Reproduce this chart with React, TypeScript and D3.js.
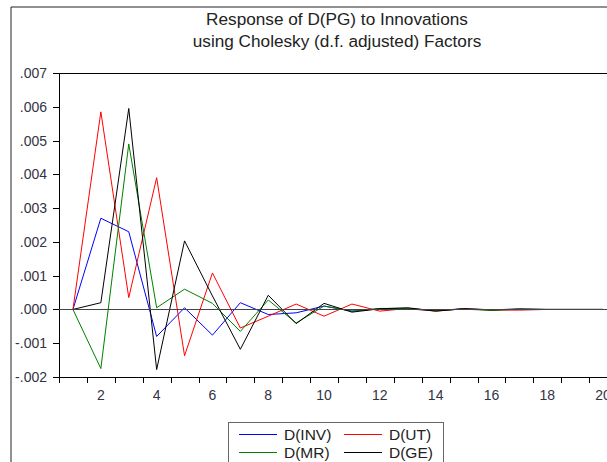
import React from 'react';
import * as d3 from 'd3';

// periods 1..20
const periods = d3.range(1, 21);
const yTicks = [-0.002, -0.001, 0, 0.001, 0.002, 0.003, 0.004, 0.005, 0.006, 0.007];
const xLabels = [2, 4, 6, 8, 10, 12, 14, 16, 18, 20];

const inv = [0, 0.0027, 0.0023, -0.0008, 0.00005, -0.00076, 0.0002, -0.00015, -0.0001, 0.0001, -0.00005, 0.00002, 0.00001, -0.00003, 0.00002, -0.00001, 0.00001, 0, 0, 0];
const ut = [0, 0.00585, 0.00035, 0.0039, -0.00137, 0.00108, -0.00055, -0.0002, 0.00016, -0.0002, 0.00016, -0.00005, 0.00003, -0.00005, 0.00002, -0.00002, -0.00002, 0, 0, 0];
const mr = [0, -0.00175, 0.0049, 0.00005, 0.0006, 0.00018, -0.00065, 0.00028, -0.0004, 0.0001, -0.00005, 0.00003, 0.00003, -0.00003, 0.00001, -0.00003, 0.00001, 0, 0, 0];
const ge = [0, 0.0002, 0.00595, -0.00178, 0.00203, 0.0004, -0.00118, 0.00042, -0.00042, 0.00018, -0.00008, 0.00002, 0.00005, -0.00005, 0.00002, -0.00001, 0.00001, 0, 0, 0];

const series = [
  { name: 'D(INV)', values: inv, color: '#0000ff' },
  { name: 'D(UT)', values: ut, color: '#ff0000' },
  { name: 'D(MR)', values: mr, color: '#008000' },
  { name: 'D(GE)', values: ge, color: '#000000' },
];

const W = 607;
const H = 462;
const left = 59, top = 73, bottom = 377, right = 617;
const font = 'Arial, "Liberation Sans", sans-serif';
const txt = '#333344';

const fmt = (v: number) => v.toFixed(3).replace(/^(-?)0\./, '$1.');

export default function App() {
  const x = d3.scaleLinear().domain([0.5, 20.5]).range([left, right]);
  const y = d3.scaleLinear().domain([-0.002, 0.007]).range([bottom, top]);
  const line = d3.line<number>().x((d, i) => x(periods[i])).y(d => y(d));
  const edges = d3.range(0.5, 21, 1);

  return (
    <svg width={W} height={H} style={{ position: 'absolute', left: 0, top: 0, background: '#fff' }}>
      {/* outer frame */}
      <line x1={11} y1={7} x2={W} y2={7} stroke="#222" />
      <line x1={11} y1={7} x2={11} y2={H} stroke="#222" />

      <text x={337} y={25} textAnchor="middle" fontFamily={font} fontSize={17.2} fill="#222">
        Response of D(PG) to Innovations
      </text>
      <text x={337} y={47} textAnchor="middle" fontFamily={font} fontSize={17.2} fill="#222">
        using Cholesky (d.f. adjusted) Factors
      </text>

      {/* plot box */}
      <line x1={left} y1={top + 0.5} x2={right} y2={top + 0.5} stroke="#000" />
      <line x1={left + 0.5} y1={top} x2={left + 0.5} y2={bottom} stroke="#000" />
      <line x1={left} y1={bottom + 0.5} x2={right} y2={bottom + 0.5} stroke="#000" />

      {yTicks.map(t => (
        <g key={t}>
          <line x1={left - 6} x2={left} y1={Math.round(y(t)) + 0.5} y2={Math.round(y(t)) + 0.5} stroke="#000" />
          <text x={47} y={y(t) + 5} textAnchor="end" fontFamily={font} fontSize={14} fill={txt}>
            {fmt(t)}
          </text>
        </g>
      ))}

      {edges.map(e => (
        <line key={e} x1={Math.round(x(e)) + 0.5} x2={Math.round(x(e)) + 0.5} y1={bottom} y2={bottom + 6} stroke="#000" />
      ))}
      {xLabels.map(l => (
        <text key={l} x={x(l)} y={400} textAnchor="middle" fontFamily={font} fontSize={14} fill={txt}>
          {l}
        </text>
      ))}

      {series.map(s => (
        <path key={s.name} d={line(s.values) || ''} fill="none" stroke={s.color} strokeWidth={1} />
      ))}

      {/* zero line */}
      <line x1={left} x2={right} y1={Math.round(y(0)) + 0.5} y2={Math.round(y(0)) + 0.5} stroke="#444" />

      {/* legend */}
      <rect x={228.5} y={422.5} width={215} height={60} fill="#fff" stroke="#666" />
      {series.map((s, i) => {
        const col = i % 2;
        const row = Math.floor(i / 2);
        const lx = 239 + col * 105;
        const ly = 434 + row * 18;
        return (
          <g key={s.name}>
            <line x1={lx} x2={lx + 38} y1={ly + 0.5} y2={ly + 0.5} stroke={s.color} />
            <text x={lx + 45} y={ly + 5.5} fontFamily={font} fontSize={15.5} fill="#222">
              {s.name}
            </text>
          </g>
        );
      })}
    </svg>
  );
}
